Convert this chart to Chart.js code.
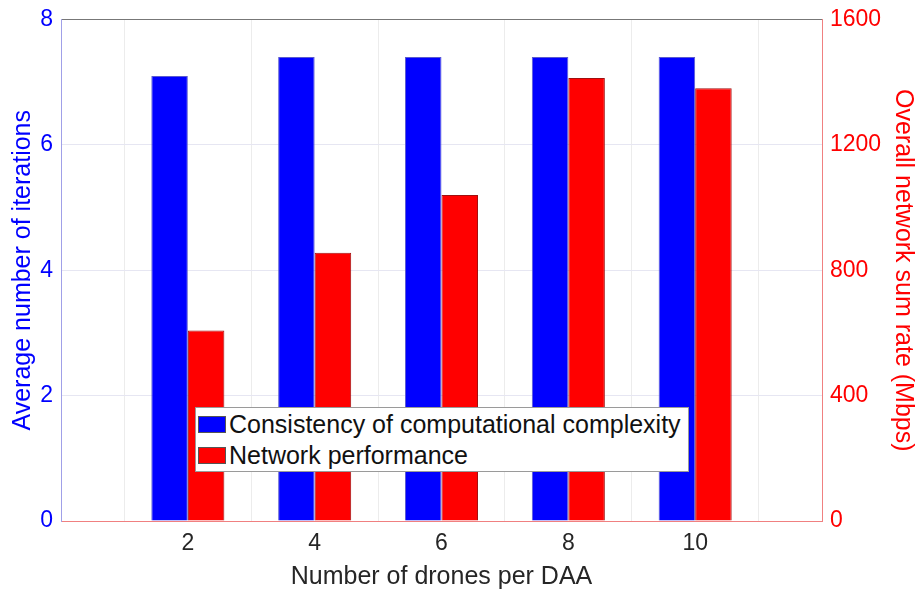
<!DOCTYPE html>
<html>
<head>
<meta charset="utf-8">
<script src="https://cdn.jsdelivr.net/npm/chart.js@4/dist/chart.umd.min.js"></script>
<style>
  html, body { margin: 0; padding: 0; background: #fff; }
  #wrap { position: relative; width: 918px; height: 592px; }
  #legend {
    position: absolute; left: 195px; top: 407px; width: 494px; height: 65px;
    border: 1px solid #9a9a9a; background: #fff; box-sizing: border-box;
    font-family: "Liberation Sans", Arial, sans-serif; font-size: 25px; color: #111;
    padding: 1px 0 0 2px;
  }
  .item { display: flex; align-items: center; height: 31px; white-space: nowrap; }
  .sw { width: 28px; height: 17px; margin-right: 3px; box-sizing: border-box; border: 1px solid #555; }
</style>
</head>
<body>
<div id="wrap">
  <canvas id="chart" width="918" height="592"></canvas>
  <div id="legend"></div>
</div>
<script>
// 막대 데이터
const categories = ['2', '4', '6', '8', '10'];
const iterations = [7.1, 7.4, 7.4, 7.4, 7.4];
const sumRate = [608, 856, 1040, 1413, 1381];
const leftTicks = [0, 2, 4, 6, 8];
const rightTicks = [0, 400, 800, 1200, 1600];

const blue = '#0000ff';
const red = '#ff0000';
const font = '"Liberation Sans", Arial, sans-serif';

// 양 끝에 빈 칸을 두어 x 범위 0~12 처럼 보이게
const labels = [''].concat(categories, ['']);
const pad = arr => [null].concat(arr, [null]);

const datasets = [
  {
    label: 'Consistency of computational complexity',
    data: pad(iterations),
    backgroundColor: blue,
    borderColor: '#5a5ad0',
    borderWidth: 1,
    yAxisID: 'y'
  },
  {
    label: 'Network performance',
    data: pad(sumRate),
    backgroundColor: red,
    borderColor: '#a01010',
    borderWidth: 1,
    yAxisID: 'y1'
  }
];

const ctx = document.getElementById('chart').getContext('2d');
new Chart(ctx, {
  type: 'bar',
  data: { labels: labels, datasets: datasets },
  options: {
    responsive: false,
    animation: false,
    layout: { padding: 0 },
    datasets: { bar: { categoryPercentage: 0.576, barPercentage: 1.0 } },
    plugins: { legend: { display: false }, tooltip: { enabled: false } },
    scales: {
      x: {
        offset: false,
        grid: { color: '#ececec', drawTicks: false },
        border: { color: '#f08080' },
        ticks: { color: '#262626', font: { family: font, size: 23 }, padding: 9 },
        title: { display: true, text: 'Number of drones per DAA', color: '#262626', font: { family: font, size: 25 }, padding: { top: 0, bottom: 0 } },
        afterFit: s => { s.height = 71; }
      },
      xTop: {
        position: 'top',
        offset: false,
        grid: { display: false },
        border: { color: '#777' },
        ticks: { display: false },
        afterFit: s => { s.height = 16; }
      },
      y: {
        position: 'left',
        min: 0, max: 8,
        afterBuildTicks: s => { s.ticks = leftTicks.map(v => ({ value: v })); },
        grid: { color: '#e6e6f2', drawTicks: false },
        border: { color: '#a0a0e8' },
        ticks: { color: blue, font: { family: font, size: 23, lineHeight: 1 }, padding: 8 },
        title: { display: true, text: 'Average number of iterations', color: blue, font: { family: font, size: 25 }, padding: { top: 8, bottom: 0 } },
        afterFit: s => { s.width = 61; }
      },
      y1: {
        position: 'right',
        min: 0, max: 1600,
        afterBuildTicks: s => { s.ticks = rightTicks.map(v => ({ value: v })); },
        grid: { drawOnChartArea: false, drawTicks: false },
        border: { color: '#f08080' },
        ticks: { color: red, font: { family: font, size: 23, lineHeight: 1 }, padding: 8, callback: v => String(v) },
        title: { display: true, text: 'Overall network sum rate (Mbps)', color: red, font: { family: font, size: 25 }, padding: { top: 0, bottom: 0 } },
        afterFit: s => { s.width = 96; }
      }
    }
  }
});

// 범례는 HTML로 그림 안에 배치
const legend = document.getElementById('legend');
datasets.forEach(d => {
  const item = document.createElement('div');
  item.className = 'item';
  const sw = document.createElement('span');
  sw.className = 'sw';
  sw.style.background = d.backgroundColor;
  const tx = document.createElement('span');
  tx.textContent = d.label;
  item.appendChild(sw);
  item.appendChild(tx);
  legend.appendChild(item);
});
</script>
</body>
</html>
